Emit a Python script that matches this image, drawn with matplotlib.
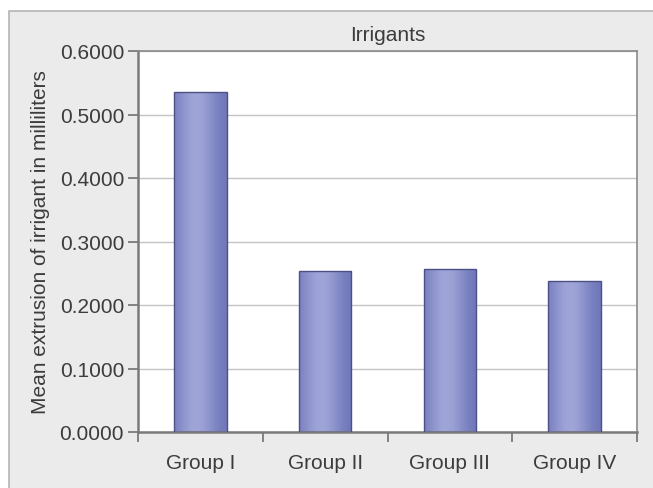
import numpy as np
import matplotlib.pyplot as plt
from matplotlib.patches import Rectangle

# Data
groups = ["Group I", "Group II", "Group III", "Group IV"]
extrusion = [0.536, 0.253, 0.256, 0.238]
yticks = [0.0, 0.1, 0.2, 0.3, 0.4, 0.5, 0.6]

plt.rcParams['font.family'] = ['Liberation Sans', 'DejaVu Sans']
txt = '#3c3c3c'

fig = plt.figure(figsize=(6.53, 4.89), dpi=100)
fig.patch.set_facecolor('white')

# grey panel behind the chart (runs off the right and bottom edges)
panel = Rectangle((9 / 653, -0.05), 1.1, (489 - 12) / 489 + 0.05, transform=fig.transFigure,
                  facecolor='#ebebeb', edgecolor='#b4b4b4', lw=1.2, zorder=-10)
fig.patches.append(panel)

ax = fig.add_axes([138 / 653, 1 - 433 / 489, (637 - 138) / 653, (433 - 52) / 489])
ax.set_facecolor('white')

x = np.arange(len(groups))
bars = ax.bar(x, extrusion, width=0.42, color='none', edgecolor='#4b5085', lw=1, zorder=3)

# horizontal shading inside each bar
t = np.linspace(0, 1, 200)
shade = np.exp(-((t - 0.42) / 0.38) ** 2)
c_dark = np.array([0x6a, 0x72, 0xb6]) / 255
c_light = np.array([0xa0, 0xa5, 0xd8]) / 255
grad = c_dark[None, :] + (c_light - c_dark)[None, :] * shade[:, None]
grad = grad[None, :, :]
for b in bars:
    x0, w, h = b.get_x(), b.get_width(), b.get_height()
    im = ax.imshow(grad, extent=[x0, x0 + w, 0, h], aspect='auto', zorder=2,
                   interpolation='bilinear')
    im.set_clip_path(b)

ax.set_xlim(-0.5, len(groups) - 0.5)
ax.set_ylim(0, 0.6)
ax.set_yticks(yticks)
ax.set_yticklabels([f"{v:.4f}" for v in yticks])
ax.set_xticks(x)
ax.set_xticklabels(groups)
ax.set_xticks(np.arange(len(groups) + 1) - 0.5, minor=True)
ax.tick_params(axis='x', which='major', length=0, pad=15, labelsize=15, colors=txt)
ax.tick_params(axis='x', which='minor', length=7, width=1.2, color='#707070', direction='out')
ax.tick_params(axis='y', length=7, width=1.2, color='#707070', pad=3, labelsize=15, labelcolor=txt)

ax.grid(axis='y', color='#c4c4c4', lw=1, zorder=1)
ax.set_axisbelow(True)
for side in ['left', 'bottom']:
    ax.spines[side].set_color('#7a7a7a')
    ax.spines[side].set_linewidth(1.8)
for side in ['top', 'right']:
    ax.spines[side].set_color('#8a8a8a')
    ax.spines[side].set_linewidth(1.2)

ax.set_title("Irrigants", fontsize=15, color=txt, pad=8)
ax.set_ylabel("Mean extrusion of irrigant in milliliters", fontsize=15, color=txt, labelpad=7)

fig.savefig("out.png", dpi=100)
